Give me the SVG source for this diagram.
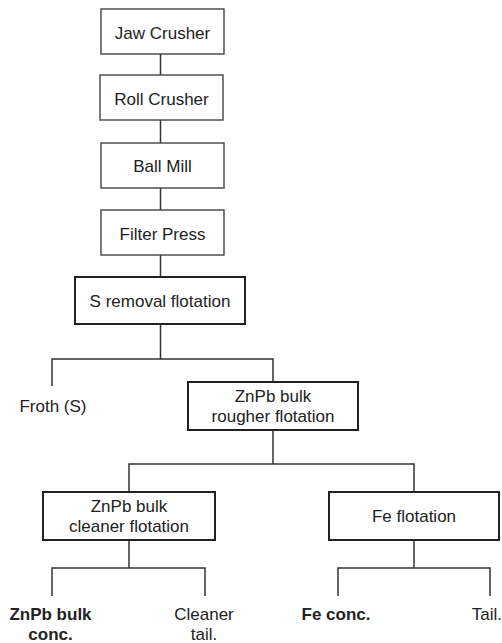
<svg xmlns="http://www.w3.org/2000/svg" width="502" height="643" viewBox="0 0 502 643">
<style>
.b1{fill:#fff;stroke:#444;stroke-width:1.4}
.b2{fill:#fff;stroke:#222;stroke-width:2}
.ln{fill:none;stroke:#333;stroke-width:1.5}
text{font-family:"Liberation Sans",Arial,sans-serif;font-size:17px;fill:#222;text-anchor:middle}
.bd{font-weight:bold}
</style>
<rect width="502" height="643" fill="#fff"/>
<g id="connectors">
<path class="ln" d="M160.5 54V75M160.5 120V143M160.5 188V210M160.5 255V277"/>
<path class="ln" d="M160.5 324V359M52 386V359H273V382"/>
<path class="ln" d="M273 430V464M129 492V464H414V492"/>
<path class="ln" d="M129 540V568M52 596V568H205V596"/>
<path class="ln" d="M414 540V568M338 596V568H490V596"/>
</g>
<g id="jaw"><rect class="b1" x="101" y="9" width="123" height="45"/><text x="162.5" y="39">Jaw Crusher</text></g>
<g id="roll"><rect class="b1" x="100" y="75" width="123" height="45"/><text x="161.5" y="105">Roll Crusher</text></g>
<g id="ball"><rect class="b1" x="101" y="143" width="123" height="45"/><text x="162.5" y="172">Ball Mill</text></g>
<g id="filter"><rect class="b1" x="101" y="210" width="123" height="45"/><text x="162.5" y="240">Filter Press</text></g>
<g id="sremoval"><rect class="b2" x="75" y="277" width="170" height="47"/><text x="160" y="307">S removal flotation</text></g>
<g id="froth"><text x="53" y="412">Froth (S)</text></g>
<g id="rougher"><rect class="b2" x="188" y="382" width="170" height="48"/><text x="273" y="402">ZnPb bulk</text><text x="273" y="422">rougher flotation</text></g>
<g id="cleaner"><rect class="b2" x="43" y="492" width="172" height="48"/><text x="129" y="512">ZnPb bulk</text><text x="129" y="532">cleaner flotation</text></g>
<g id="fe"><rect class="b2" x="329" y="492" width="170" height="48"/><text x="414" y="522">Fe flotation</text></g>
<g id="znpbconc"><text class="bd" x="50.5" y="620">ZnPb bulk</text><text class="bd" x="50.5" y="640">conc.</text></g>
<g id="cleanertail"><text x="204" y="620">Cleaner</text><text x="204" y="640">tail.</text></g>
<g id="feconc"><text class="bd" x="336" y="620">Fe conc.</text></g>
<g id="tail"><text x="502" y="620" style="text-anchor:end">Tail.</text></g>
</svg>
